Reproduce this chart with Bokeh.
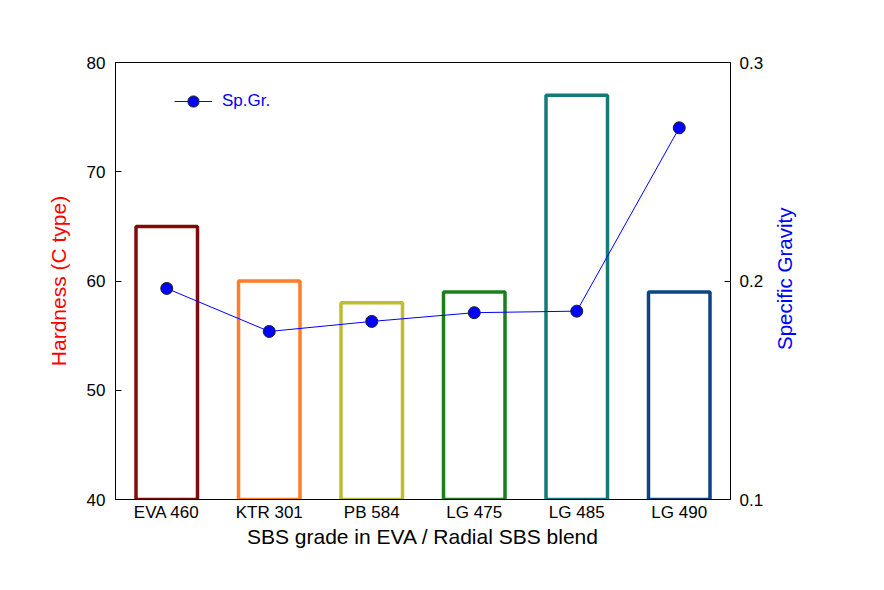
import math
from bokeh.plotting import figure
from bokeh.models import (FactorRange, Range1d, LinearAxis, FixedTicker, Legend, LegendItem,
                          ColumnDataSource, Label)
from bokeh.embed import file_html
from bokeh.resources import INLINE

grades = ["EVA 460", "KTR 301", "PB 584", "LG 475", "LG 485", "LG 490"]
hardness = [65, 60, 58, 59, 77, 59]
sp_gravity = [0.1966, 0.1769, 0.1815, 0.1855, 0.1862, 0.2701]
bar_colors = ["#7f0b0b", "#ff7f27", "#bdbd30", "#1a7f1f", "#137b7b", "#0c4682"]
hard_ticks = [40, 50, 60, 70, 80]
sg_ticks = [0.1, 0.2, 0.3]

FONT = "Liberation Sans"

p = figure(width=868, height=574, output_backend="svg", toolbar_location=None,
           x_range=FactorRange(*grades, range_padding=0),
           y_range=Range1d(40, 80),
           min_border_left=115, min_border_right=138, min_border_top=62, min_border_bottom=75,
           x_axis_label="SBS grade in EVA / Radial SBS blend",
           y_axis_label="Hardness (C type)")
p.extra_y_ranges = {"sg": Range1d(0.1, 0.3)}

p.grid.visible = False
p.outline_line_color = "black"
p.outline_line_width = 1
p.background_fill_color = "white"
p.border_fill_color = "white"

src = ColumnDataSource(dict(x=grades, h=hardness, sg=sp_gravity, c=bar_colors))

p.vbar(x="x", top="h", bottom=hard_ticks[0] - 3, width=0.6, source=src,
       fill_color=None, line_color="c", line_width=3.5)

line = p.line(x="x", y="sg", source=src, y_range_name="sg", line_color="#0000ff", line_width=1)
pts = p.scatter(x="x", y="sg", source=src, y_range_name="sg", size=12,
                fill_color="#0000ff", line_color="#202020", line_width=1)

# left axis
ya = p.yaxis[0]
ya.ticker = FixedTicker(ticks=hard_ticks)
ya.minor_tick_line_color = None
ya.major_tick_in = 6
ya.major_tick_out = 0
ya.major_label_standoff = 10
ya.major_label_text_font = FONT
ya.major_label_text_font_size = "17px"
ya.major_label_text_color = "black"
ya.axis_label_text_font = FONT
ya.axis_label_text_font_size = "21px"
ya.axis_label_text_font_style = "normal"
ya.axis_label_text_color = "#ff0000"
ya.axis_label_standoff = 14

# right axis (title drawn as a rotated label reading upwards)
ra = LinearAxis(y_range_name="sg", ticker=FixedTicker(ticks=sg_ticks))
ra.minor_tick_line_color = None
ra.major_tick_in = 6
ra.major_tick_out = 0
ra.major_label_standoff = 9
ra.major_label_text_font = FONT
ra.major_label_text_font_size = "17px"
ra.major_label_text_color = "black"
p.add_layout(ra, "right")

sg_mid = (sg_ticks[0] + sg_ticks[-1]) / 2
right_title = Label(x=len(grades) + 0.53, y=sg_mid + 0.001, y_range_name="sg",
                    text="Specific Gravity", angle=math.pi / 2,
                    text_align="center", text_baseline="middle",
                    text_font=FONT, text_font_size="20.5px", text_color="#0000ff")
p.add_layout(right_title, "right")

# bottom axis
xa = p.xaxis[0]
xa.major_tick_in = 0
xa.major_tick_out = 0
xa.major_label_standoff = 3
xa.major_label_text_font = FONT
xa.major_label_text_font_size = "17px"
xa.major_label_text_color = "black"
xa.axis_label_text_font = FONT
xa.axis_label_text_font_size = "21px"
xa.axis_label_text_font_style = "normal"
xa.axis_label_text_color = "black"
xa.axis_label_standoff = 0

legend = Legend(items=[LegendItem(label="Sp.Gr.", renderers=[line, pts])],
                location=(59, 384), glyph_width=38, glyph_height=28, padding=0, margin=0,
                spacing=0, label_standoff=10, border_line_color=None,
                background_fill_alpha=0, label_text_font=FONT,
                label_text_font_size="17px", label_text_color="#0000ff")
p.add_layout(legend, "center")

open("out.html", "w").write(file_html(p, INLINE))
